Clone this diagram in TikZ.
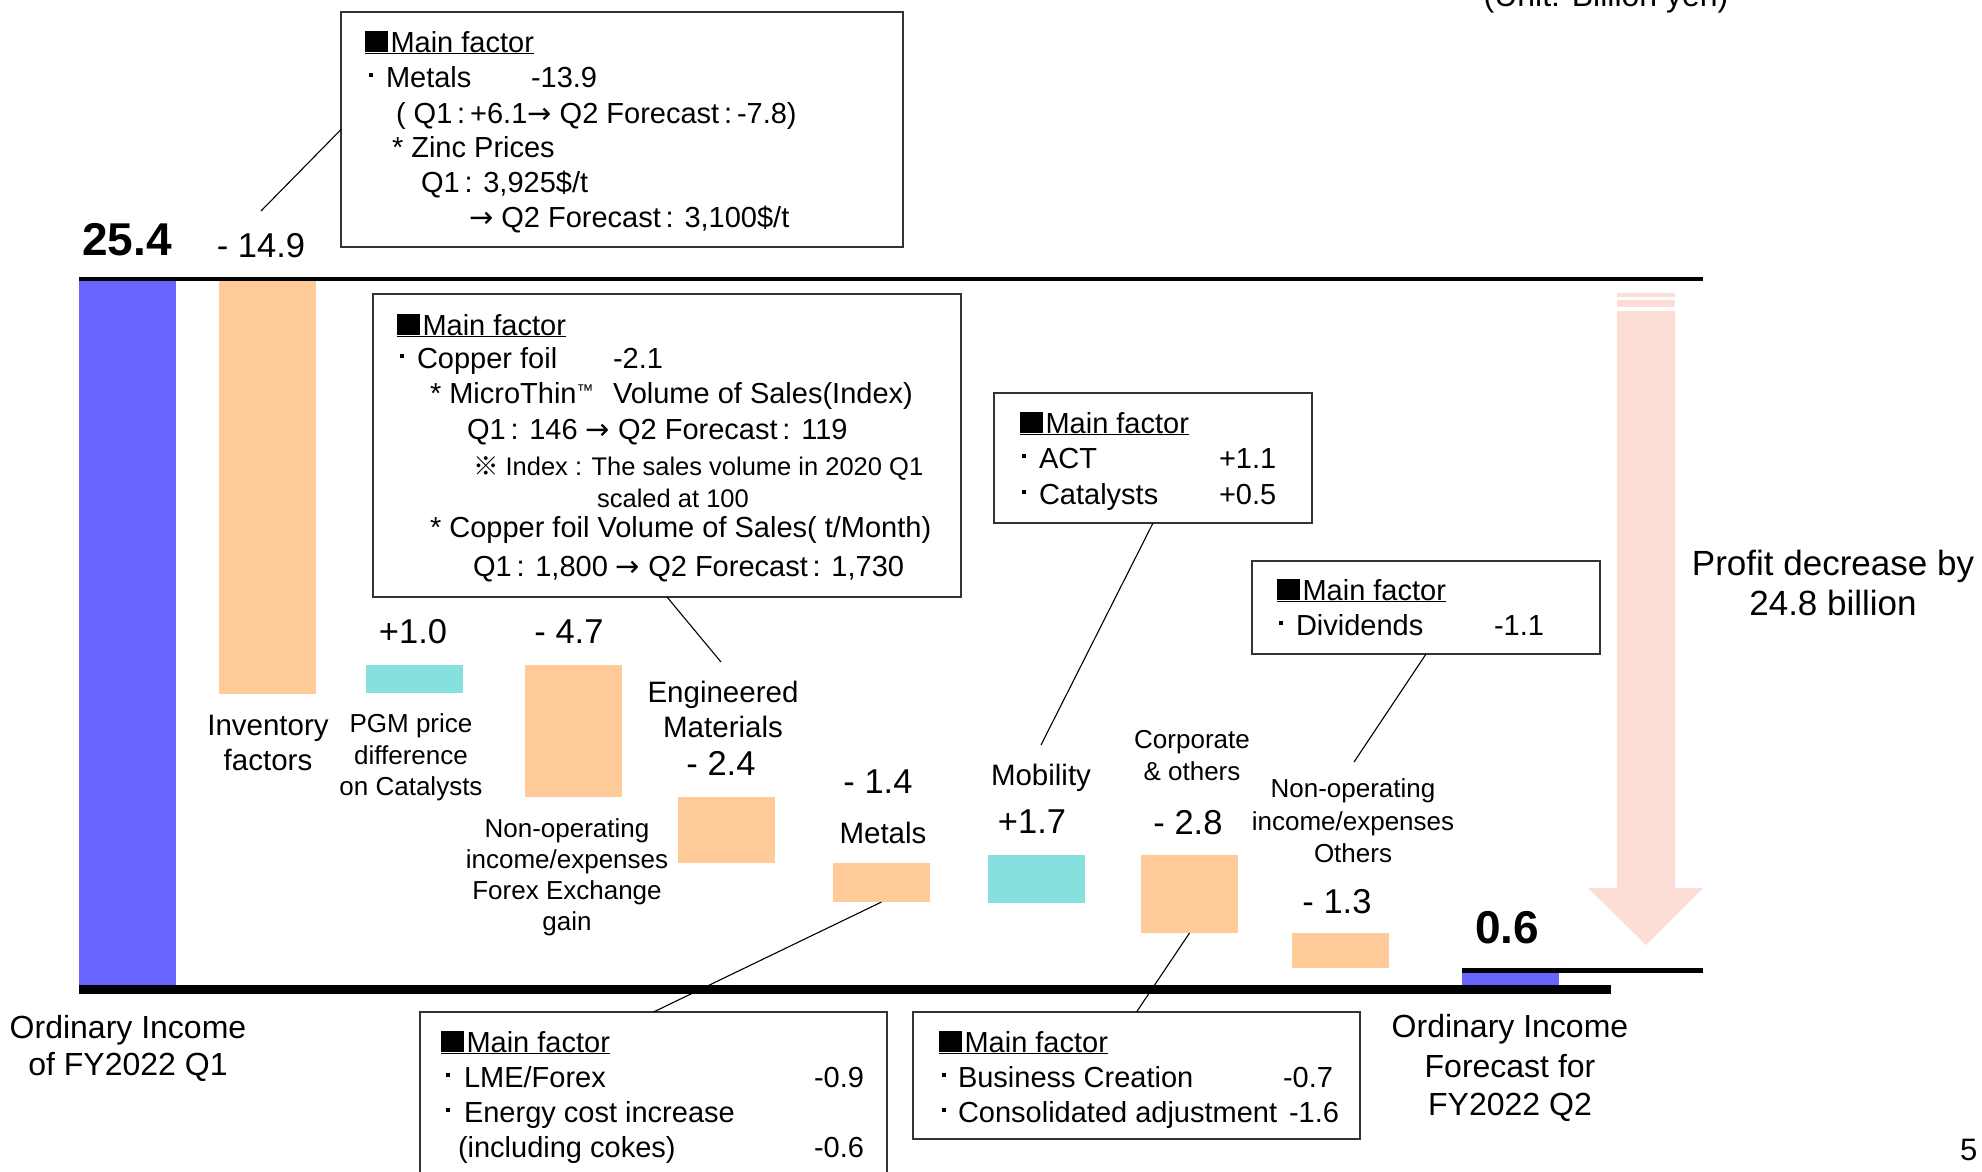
\documentclass[tikz,border=0pt]{standalone}
\usepackage{fontspec}
\setmainfont{Liberation Sans}
\newfontfamily\cjk{Noto Sans CJK JP}
\newfontfamily\djv{DejaVu Sans}
\definecolor{barblue}{RGB}{102,102,255}
\definecolor{barorange}{RGB}{255,204,153}
\definecolor{barcyan}{RGB}{134,224,222}
\definecolor{arrowpink}{RGB}{252,222,214}
\newcommand{\myfs}[1]{\fontsize{#1bp}{#1bp}\selectfont}
\newcommand{\mainf}{\underline{\rule{0.78em}{0.71em}\kern0.1em Main factor}}
\newcommand{\bul}[1]{\llap{\rule[0.33em]{0.13em}{0.15em}\hspace{#1bp}}}
\newcommand{\rarr}{{\djv →}}
\begin{document}
\begin{tikzpicture}[x=1bp,y=-1bp,
  bar/.style={draw=none, inner sep=0pt, outer sep=0pt, minimum width=97bp, anchor=north west},
  factbox/.style={draw=black!80, line width=1.5bp, fill=white, inner sep=0pt, outer sep=0pt, anchor=north west},
  lead/.style={line width=1.1bp, black},
  txt/.style={anchor=base, inner sep=0pt, outer sep=0pt},
  ltxt/.style={anchor=base west, inner sep=0pt, outer sep=0pt},
  bx/.style={ltxt, font={\myfs{29}}},
  val/.style={txt, font={\myfs{34.5}}},
  big/.style={txt, font={\myfs{46}\bfseries}},
  lab/.style={txt, font={\myfs{29.5}}},
  slab/.style={txt, font={\myfs{26}}},
  olab/.style={txt, font={\myfs{32}}}]
\useasboundingbox (0,0) rectangle (1982,1171);

% pink arrow
\fill[arrowpink] (1617,293) rectangle (1675,296.5);
\fill[arrowpink] (1617,300) rectangle (1675,307);
\fill[arrowpink] (1617,311) -- (1675,311) -- (1675,888) -- (1703,888) -- (1646,945) -- (1588,888) -- (1617,888) -- cycle;

% bars
\node[bar, fill=barblue, minimum height=704bp] (q1) at (79,281) {};
\node[bar, fill=barorange, minimum height=415bp] (inv) at (219,279) {};
\node[bar, fill=barcyan, minimum height=28bp] (pgm) at (366,665) {};
\node[bar, fill=barorange, minimum height=132bp] (nof) at (525,665) {};
\node[bar, fill=barorange, minimum height=66bp] (em) at (678,797) {};
\node[bar, fill=barorange, minimum height=39bp] (met) at (833,863) {};
\node[bar, fill=barcyan, minimum height=48bp] (mob) at (988,855) {};
\node[bar, fill=barorange, minimum height=78bp] (corp) at (1141,855) {};
\node[bar, fill=barorange, minimum height=35bp] (oth) at (1292,933) {};
\node[bar, fill=barblue, minimum height=12bp] (q2) at (1462,973) {};

% axis lines
\draw[line width=4.5bp] (79,279) -- (1703,279);
\draw[line width=9bp] (79,989.5) -- (1611,989.5);
\draw[line width=4.5bp] (1462,970.5) -- (1703,970.5);

% boxes
\node[factbox, minimum width=562bp, minimum height=235bp] (b1) at (341,12) {};
\node[factbox, minimum width=588bp, minimum height=303bp] (b2) at (373,294) {};
\node[factbox, minimum width=318bp, minimum height=130bp] (b3) at (994,393) {};
\node[factbox, minimum width=348bp, minimum height=93bp] (b4) at (1252,561) {};
\node[factbox, minimum width=467bp, minimum height=180bp] (b5) at (420,1012) {};
\node[factbox, minimum width=447bp, minimum height=127bp] (b6) at (913,1012) {};

% leaders
\coordinate (k1) at (261,211);
\coordinate (k2) at (721,662);
\coordinate (k3) at (1041,745);
\coordinate (k4) at (1354,762);
\draw[lead] (k1) -- (b1.west);
\draw[lead] (b2.south) -- (k2);
\draw[lead] (b3.south) -- (k3);
\draw[lead] (b4.south) -- (k4);
\draw[lead] (met.south) -- (b5.north);
\draw[lead] (corp.south) -- (b6.north);

% values
\node[big] (v0) at (127,255) {25.4};
\node[val] (v1) at (261,257) {- 14.9};
\node[val] (v2) at (413,643) {+1.0};
\node[val] (v3) at (569,643) {- 4.7};
\node[val] (v4) at (721,775) {- 2.4};
\node[val] (v5) at (878,793) {- 1.4};
\node[val] (v6) at (1032,833) {+1.7};
\node[val] (v7) at (1188,834) {- 2.8};
\node[val] (v8) at (1337,913) {- 1.3};
\node[big] (v9) at (1507,943) {0.6};

% category labels
\node[lab] (la1) at (268,735) {Inventory};
\node[lab] (la2) at (268,770) {factors};
\node[slab] (lb1) at (411,732) {PGM price};
\node[slab] (lb2) at (411,764) {difference};
\node[slab] (lb3) at (411,795) {on Catalysts};
\node[slab] (lc1) at (567,837) {Non-operating};
\node[slab] (lc2) at (567,868) {income/expenses};
\node[slab] (lc3) at (567,899) {Forex Exchange};
\node[slab] (lc4) at (567,930) {gain};
\node[lab] (ld1) at (723,702) {Engineered};
\node[lab] (ld2) at (723,737) {Materials};
\node[lab] (le1) at (883,843) {Metals};
\node[lab] (lf1) at (1041,785) {Mobility};
\node[slab] (lg1) at (1192,748) {Corporate};
\node[slab] (lg2) at (1192,780) {\& others};
\node[slab] (lh1) at (1353,797) {Non-operating};
\node[slab] (lh2) at (1353,830) {income/expenses};
\node[slab] (lh3) at (1353,862) {Others};
\node[olab] (li1) at (128,1038) {Ordinary Income};
\node[olab] (li2) at (128,1075) {of FY2022 Q1};
\node[olab] (lj1) at (1510,1037) {Ordinary Income};
\node[olab] (lj2) at (1510,1077) {Forecast for};
\node[olab] (lj3) at (1510,1115) {FY2022 Q2};
\node[txt, font={\myfs{35}}] (lk1) at (1833,575) {Profit decrease by};
\node[txt, font={\myfs{35}}] (lk2) at (1833,615) {24.8 billion};
\node[txt, font={\myfs{32}}] (unit) at (1606,6) {(Unit: Billion yen)};
\node[ltxt, font={\myfs{31}}] (pg) at (1960,1160) {5};

% box 1 text
\node[bx] (t11) at (365,52) {\mainf};
\node[bx] (t12) at (386,87) {\bul{13}Metals};
\node[bx] (t12n) at (531,87) {-13.9};
\node[bx] (t13) at (396,123) {( Q1\,:\,+6.1\rarr\ Q2 Forecast\,:\,-7.8)};
\node[bx] (t14) at (392,157) {* Zinc Prices};
\node[bx] (t15) at (421,192) {Q1\,: 3,925\$/t};
\node[bx] (t16) at (469,227) {\rarr\ Q2 Forecast\,: 3,100\$/t};

% box 2 text
\node[bx] (t21) at (397,335) {\mainf};
\node[bx] (t22) at (417,368) {\bul{13}Copper foil};
\node[bx] (t22n) at (613,368) {-2.1};
\node[bx] (t23) at (430,403) {* MicroThin\raisebox{0.22em}{\myfs{17}™}};
\node[bx] (t23b) at (613,403) {Volume of Sales(Index)};
\node[bx] (t24) at (467,439) {Q1\,: 146 \rarr\ Q2 Forecast\,: 119};
\node[ltxt, font={\myfs{25.5}}] (t25) at (473,475) {{\cjk ※} Index : The sales volume in 2020 Q1};
\node[txt, font={\myfs{25.5}}] (t26) at (673,507) {scaled at 100};
\node[bx] (t27) at (430,537) {* Copper foil Volume of Sales( t/Month)};
\node[bx] (t28) at (473,576) {Q1\,: 1,800 \rarr\ Q2 Forecast\,: 1,730};

% box 3 text
\node[bx] (t31) at (1020,433) {\mainf};
\node[bx] (t32) at (1039,468) {\bul{13}ACT};
\node[bx] (t32n) at (1219,468) {+1.1};
\node[bx] (t33) at (1039,504) {\bul{13}Catalysts};
\node[bx] (t33n) at (1219,504) {+0.5};

% box 4 text
\node[bx] (t41) at (1277,600) {\mainf};
\node[bx] (t42) at (1296,635) {\bul{13}Dividends};
\node[bx] (t42n) at (1494,635) {-1.1};

% box 5 text
\node[bx] (t51) at (441,1052) {\mainf};
\node[bx] (t52) at (464,1087) {\bul{14}LME/Forex};
\node[bx] (t52n) at (814,1087) {-0.9};
\node[bx] (t53) at (464,1122) {\bul{14}Energy cost increase};
\node[bx] (t54) at (458,1157) {(including cokes)};
\node[bx] (t54n) at (814,1157) {-0.6};

% box 6 text
\node[bx] (t61) at (939,1052) {\mainf};
\node[bx] (t62) at (958,1087) {\bul{12}Business Creation};
\node[bx] (t62n) at (1283,1087) {-0.7};
\node[bx] (t63) at (958,1122) {\bul{12}Consolidated adjustment};
\node[bx] (t63n) at (1289,1122) {-1.6};
\end{tikzpicture}
\end{document}
